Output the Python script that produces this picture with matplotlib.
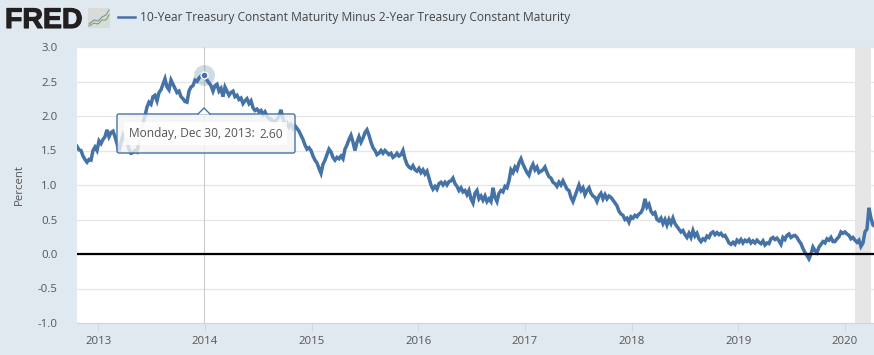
import numpy as np
import matplotlib
matplotlib.use('Agg')
import matplotlib.pyplot as plt
from matplotlib.patches import FancyBboxPatch, Polygon, Rectangle
import matplotlib.patheffects as pe

plt.rcParams['font.family'] = ['Open Sans', 'DejaVu Sans']

# T10Y2Y, roughly weekly steps, one list per year
late_2012 = [1.56, 1.51, 1.50, 1.42, 1.37, 1.33, 1.37, 1.36, 1.50, 1.55, 1.50]
y2013 = [1.64, 1.60, 1.66, 1.70, 1.80, 1.70, 1.76, 1.78, 1.70, 1.60,
         1.48, 1.62, 1.72, 1.65, 1.62, 1.52, 1.46, 1.47, 1.50, 1.48,
         1.62, 1.78, 1.90, 2.00, 2.13, 2.20, 2.17, 2.28, 2.30, 2.22,
         2.34, 2.38, 2.46, 2.54, 2.42, 2.38, 2.52, 2.46, 2.40, 2.34,
         2.36, 2.28, 2.25, 2.21, 2.20, 2.36, 2.42, 2.44, 2.52, 2.50,
         2.55, 2.58, 2.56]
y2014 = [2.60, 2.52, 2.48, 2.44, 2.36, 2.44, 2.46, 2.36, 2.40, 2.28,
         2.42, 2.36, 2.30, 2.34, 2.36, 2.28, 2.30, 2.24, 2.26, 2.18,
         2.22, 2.25, 2.18, 2.22, 2.12, 2.08, 2.10, 2.06, 2.08, 2.02,
         2.06, 2.00, 1.96, 1.96, 1.91, 1.92, 1.95, 2.00, 2.09, 1.96,
         1.87, 1.90, 1.84, 1.88, 1.82, 1.86, 1.82, 1.78, 1.72, 1.66,
         1.58, 1.52, 1.54]
y2015 = [1.50, 1.42, 1.36, 1.32, 1.24, 1.17, 1.30, 1.36, 1.44, 1.52,
         1.48, 1.40, 1.36, 1.40, 1.38, 1.42, 1.38, 1.52, 1.58, 1.66,
         1.72, 1.62, 1.50, 1.62, 1.70, 1.62, 1.68, 1.76, 1.80, 1.72,
         1.62, 1.54, 1.50, 1.44, 1.46, 1.50, 1.46, 1.50, 1.47, 1.44,
         1.46, 1.40, 1.42, 1.46, 1.42, 1.44, 1.50, 1.38, 1.30, 1.26,
         1.24, 1.28, 1.22]
y2016 = [1.20, 1.24, 1.18, 1.22, 1.16, 1.20, 1.10, 1.00, 0.94, 0.98,
         0.94, 1.02, 1.04, 1.00, 1.04, 1.00, 1.05, 1.06, 1.10, 1.02,
         0.98, 0.92, 0.96, 0.90, 0.92, 0.86, 0.92, 0.80, 0.74, 0.88,
         0.92, 0.80, 0.84, 0.78, 0.84, 0.76, 0.80, 0.76, 0.96, 0.82,
         0.76, 0.88, 0.92, 0.90, 0.98, 0.96, 1.06, 1.22, 1.18, 1.26,
         1.22, 1.32, 1.38]
y2017 = [1.30, 1.24, 1.18, 1.14, 1.24, 1.30, 1.22, 1.26, 1.18, 1.20,
         1.22, 1.26, 1.18, 1.12, 1.10, 1.04, 1.02, 0.98, 1.04, 1.00,
         1.06, 1.00, 0.94, 0.92, 0.82, 0.76, 0.84, 0.92, 1.00, 0.92,
         0.96, 0.86, 0.92, 0.96, 0.88, 0.84, 0.82, 0.76, 0.84, 0.88,
         0.80, 0.86, 0.80, 0.84, 0.82, 0.78, 0.74, 0.70, 0.62, 0.58,
         0.56, 0.50, 0.52, 0.46]
y2018 = [0.54, 0.52, 0.56, 0.54, 0.58, 0.60, 0.66, 0.80, 0.68, 0.72,
         0.62, 0.58, 0.60, 0.50, 0.48, 0.52, 0.44, 0.50, 0.42, 0.50,
         0.44, 0.52, 0.44, 0.40, 0.36, 0.32, 0.34, 0.28, 0.24, 0.30,
         0.24, 0.34, 0.26, 0.30, 0.22, 0.18, 0.22, 0.20, 0.26, 0.24,
         0.30, 0.32, 0.28, 0.31, 0.28, 0.30, 0.26, 0.27, 0.22, 0.16,
         0.14, 0.17, 0.14]
y2019 = [0.20, 0.17, 0.21, 0.16, 0.20, 0.18, 0.21, 0.16, 0.19, 0.16,
         0.20, 0.17, 0.15, 0.19, 0.13, 0.16, 0.15, 0.22, 0.24, 0.21,
         0.23, 0.19, 0.14, 0.24, 0.21, 0.27, 0.29, 0.24, 0.26, 0.27,
         0.24, 0.19, 0.15, 0.08, 0.02, -0.02, -0.07, 0.00, 0.10, 0.05,
         0.02, 0.10, 0.14, 0.18, 0.16, 0.22, 0.20, 0.24, 0.18, 0.18,
         0.22, 0.25, 0.32]
y2020 = [0.30, 0.32, 0.29, 0.27, 0.22, 0.24, 0.20, 0.17, 0.20, 0.11,
         0.16, 0.32, 0.36, 0.67, 0.52, 0.42, 0.40]

spread = late_2012 + y2013 + y2014 + y2015 + y2016 + y2017 + y2018 + y2019 + y2020
dates = np.linspace(2012.80, 2020.281, len(spread))

year_ticks = [2013, 2014, 2015, 2016, 2017, 2018, 2019, 2020]
value_ticks = [-1.0, -0.5, 0.0, 0.5, 1.0, 1.5, 2.0, 2.5, 3.0]
recession = (2020.09, 2020.245)
hover_date = 2013.99
hover_value = 2.60

BG = '#e1e9f0'
BLUE = '#4572a7'
W, H = 874, 355

fig = plt.figure(figsize=(W/100, H/100), dpi=100, facecolor=BG)
ax = fig.add_axes([77/W, 1-323/H, (W-77)/W, 276/H])
ax.set_xlim(2012.80, 2020.272)
ax.set_ylim(-1, 3)

ax.axvspan(recession[0], recession[1], color='#e6e6e6', lw=0, zorder=1)
ax.set_yticks(value_ticks)
ax.set_yticklabels([f'{v:.1f}' for v in value_ticks], color='#555555', fontsize=8.2)
ax.set_xticks(year_ticks)
ax.set_xticklabels([str(y) for y in year_ticks], color='#555555', fontsize=8.2)
ax.grid(axis='y', color='#e6e6e6', lw=0.9, zorder=0)
ax.tick_params(axis='y', length=0, pad=14)
ax.tick_params(axis='x', length=5.5, width=0.8, color='#ccd6eb', pad=4)
for name in ['top', 'left', 'right']:
    ax.spines[name].set_visible(False)
ax.spines['bottom'].set_color('#ccd6eb')
ax.set_ylabel('Percent', color='#555555', fontsize=8.2, labelpad=9)

ax.axvline(hover_date, color='#cccccc', lw=0.8, zorder=2)
ax.plot(dates, spread, color=BLUE, lw=2.5, solid_joinstyle='miter', zorder=3)
ax.axhline(0, color='black', lw=1.6, zorder=4)
ax.plot([hover_date], [hover_value], 'o', ms=15, color=BLUE, alpha=0.25, mew=0, zorder=5)
ax.plot([hover_date], [hover_value], 'o', ms=5, color=BLUE, mec='white', mew=1, zorder=6)

# page furniture in pixel coordinates
over = fig.add_axes([0, 0, 1, 1], facecolor='none')
over.set_xlim(0, W)
over.set_ylim(H, 0)
over.axis('off')

# tooltip
over.add_patch(FancyBboxPatch((118, 115), 177, 38, boxstyle='round,pad=0,rounding_size=2',
                              fc='#777777', ec='none', alpha=0.25, zorder=9))
over.add_patch(FancyBboxPatch((117, 114), 178, 39, boxstyle='round,pad=0,rounding_size=2',
                              fc='white', ec='none', alpha=0.75, zorder=10))
over.add_patch(FancyBboxPatch((117, 114), 178, 39, boxstyle='round,pad=0,rounding_size=2',
                              fc='none', ec=BLUE, lw=1, zorder=10))
over.add_patch(Rectangle((124, 122), 163, 23, fc='white', ec='none', alpha=0.8, zorder=11))
over.add_patch(Polygon([[198, 114.5], [204, 108], [210, 114.5]], closed=True, fc='white', ec='none', zorder=11))
over.plot([198, 204, 210], [114, 108, 114], color=BLUE, lw=1, zorder=12)
over.text(129, 134, 'Monday, Dec 30, 2013:', color='#555555', fontsize=8.6, va='center', zorder=13)
over.text(259, 134, '2.60', color='#555555', fontsize=8.6, va='center', zorder=13)

# legend
over.plot([118, 135], [17, 17], color=BLUE, lw=1.8)
over.text(140, 17.5, '10-Year Treasury Constant Maturity Minus 2-Year Treasury Constant Maturity',
          color='#444444', fontsize=8.62, va='center')

# logo
over.text(5, 28, 'FRED', family='Liberation Sans', weight='bold', fontsize=20.5, color='#231f20',
          va='baseline', path_effects=[pe.withStroke(linewidth=0.8, foreground='#231f20')])
over.add_patch(FancyBboxPatch((88, 8), 22, 20, boxstyle='round,pad=0,rounding_size=1.5',
                              fc='#d8dcd8', ec='none'))
icon_x = [89, 94, 98, 102, 106, 109]
over.plot(icon_x, [24, 20, 21, 17, 15, 10], color='#7b93a8', lw=0.8)
over.plot(icon_x, [26, 23, 24, 20, 20, 15], color='#7fa35a', lw=0.8)

fig.savefig('out.png', dpi=100, facecolor=BG)
